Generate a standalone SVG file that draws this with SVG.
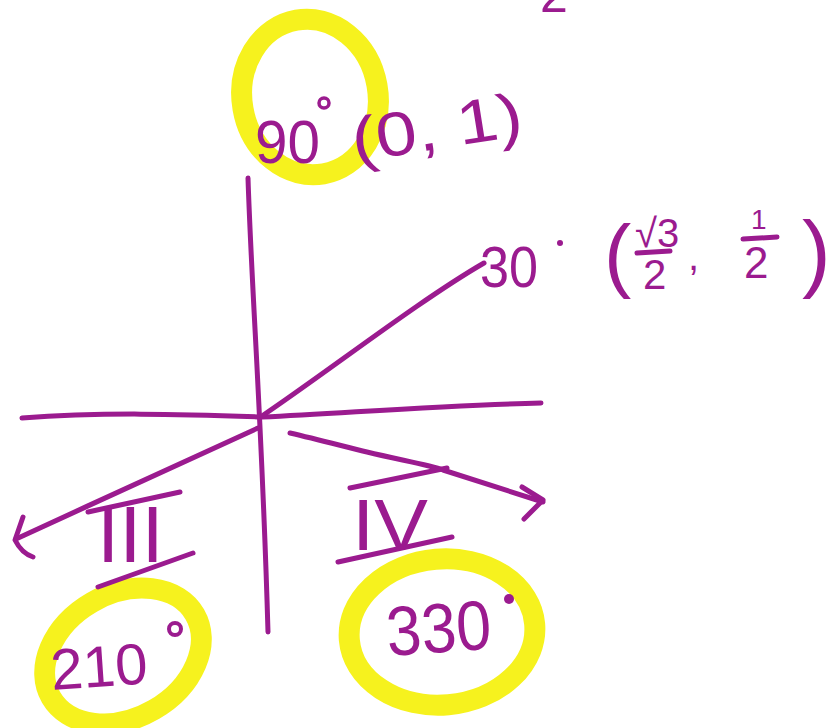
<svg xmlns="http://www.w3.org/2000/svg" width="838" height="728" viewBox="0 0 838 728">
<style>
.ink{fill:none;stroke:#9b1b8f;stroke-width:5;stroke-linecap:round;stroke-linejoin:round}
.hl{fill:none;stroke:#f6f21e;stroke-width:21}
.t{fill:#9b1b8f;font-family:"Liberation Sans",Arial,sans-serif}
</style>
<rect width="838" height="728" fill="#ffffff"/>
<text class="t" x="540" y="12" font-size="50">2</text>
<g id="highlights">
<ellipse class="hl" cx="310" cy="97" rx="68" ry="78" transform="rotate(-10 310 97)"/>
<ellipse class="hl" cx="123" cy="656" rx="83" ry="62" transform="rotate(-30 123 656)"/>
<ellipse class="hl" cx="442" cy="632" rx="93" ry="73" transform="rotate(-5 442 632)"/>
</g>
<g id="connectors">
<path class="ink" d="M22,418 C100,412 180,414 262,417 C360,412 450,405 541,403"/>
<path class="ink" d="M248,178 C252,300 262,420 268,632"/>
<path class="ink" d="M262,416 C330,370 420,300 484,263"/>
<path class="ink" d="M258,428 C200,455 100,500 16,539"/>
<path class="ink" d="M23,517 L15,540 C20,550 27,555 33,557"/>
<path class="ink" d="M290,433 C320,440 350,448 367,452 C400,460 430,465 443,470 L543,502"/>
<path class="ink" d="M522,487 L543,500 L524,519" stroke-width="8"/>
</g>
<g id="node-90">
<text class="t" x="255" y="163" font-size="62" textLength="65" lengthAdjust="spacingAndGlyphs">90</text>
<circle cx="324" cy="103" r="5" fill="none" stroke="#9b1b8f" stroke-width="3.5"/>
<text class="t" x="355" y="162" font-size="62" textLength="172" lengthAdjust="spacingAndGlyphs" transform="rotate(-9 355 162)">(0, 1)</text>
</g>
<g id="node-30">
<text class="t" x="480" y="287" font-size="58" textLength="58" lengthAdjust="spacingAndGlyphs">30</text>
<circle cx="560" cy="243" r="3" fill="#9b1b8f"/>
<text class="t" x="604" y="282" font-size="82">(</text>
<text class="t" x="635" y="247" font-size="40">√3</text>
<line class="ink" x1="637" y1="253" x2="670" y2="251"/>
<text class="t" x="643" y="289" font-size="42">2</text>
<text class="t" x="688" y="270" font-size="40">,</text>
<text class="t" x="751" y="229" font-size="28">1</text>
<line class="ink" x1="743" y1="239" x2="777" y2="237"/>
<text class="t" x="744" y="278" font-size="44">2</text>
<text class="t" x="802" y="281" font-size="86">)</text>
</g>
<g id="node-III">
<line class="ink" x1="88" y1="512" x2="180" y2="492"/>
<text class="t" x="97" y="562" font-size="80">III</text>
<line class="ink" x1="98" y1="587" x2="193" y2="553"/>
</g>
<g id="node-IV">
<line class="ink" x1="350" y1="488" x2="447" y2="468"/>
<text class="t" x="352" y="550" font-size="72" textLength="76" lengthAdjust="spacingAndGlyphs">IV</text>
<line class="ink" x1="338" y1="562" x2="452" y2="537"/>
</g>
<g id="node-210">
<text class="t" x="52" y="690" font-size="58" textLength="97" lengthAdjust="spacingAndGlyphs" transform="rotate(-4 52 690)">210</text>
<circle cx="175" cy="629" r="6" fill="none" stroke="#9b1b8f" stroke-width="4"/>
</g>
<g id="node-330">
<text class="t" x="388" y="656" font-size="70" textLength="105" lengthAdjust="spacingAndGlyphs" transform="rotate(-4 388 656)">330</text>
<circle cx="509" cy="599" r="5" fill="#9b1b8f"/>
</g>
</svg>
